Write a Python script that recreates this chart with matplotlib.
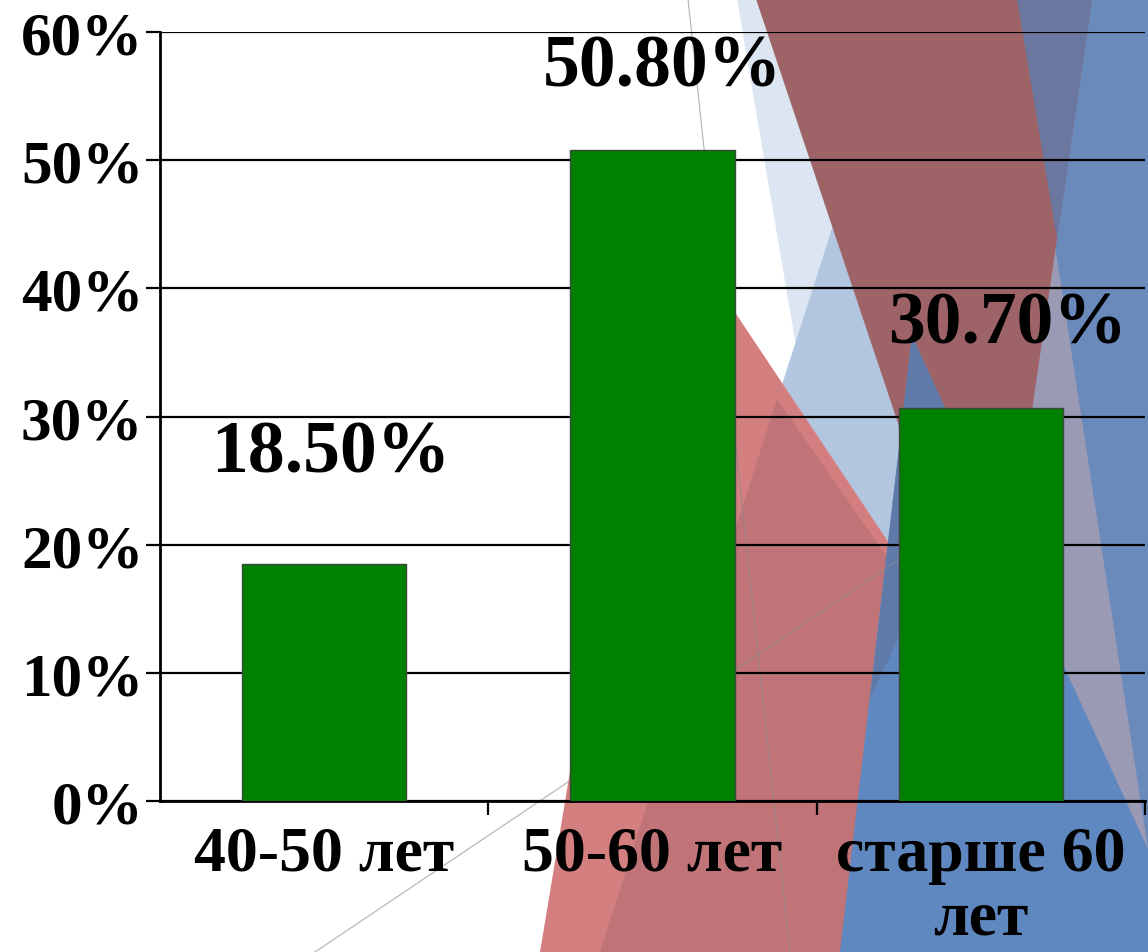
import matplotlib.pyplot as plt
from matplotlib.patches import Polygon
import numpy as np

# data
categories = ['40-50 лет', '50-60 лет', 'старше 60\nлет']
values = [18.5, 50.8, 30.7]
value_labels = ['18.50%', '50.80%', '30.70%']
yticks = [0, 10, 20, 30, 40, 50, 60]
ytick_labels = ['0%', '10%', '20%', '30%', '40%', '50%', '60%']

W, H = 1148, 953
plt.rcParams['font.family'] = ['Liberation Serif', 'DejaVu Serif']
plt.rcParams['font.weight'] = 'bold'

fig = plt.figure(figsize=(W / 100, H / 100), dpi=100)
fig.patch.set_facecolor('white')


def px(points):
    # slide pixel coords (y from top) -> figure fraction
    return [(x / W, 1 - y / H) for x, y in points]


# decorative slide background, back to front
shapes = [
    ([(1000, 0), (1148, 0), (1148, 953), (1000, 953)], '#9a9ab4'),
    ([(737, 0), (1000, 0), (1000, 700), (856, 700)], '#dce6f2'),
    ([(880, 80), (600, 953), (1000, 953), (1000, 80)], '#b2c6e0'),
    ([(540, 953), (664, 207), (1162, 953)], '#d47f7f'),
    ([(777, 400), (600, 953), (1162, 953)], '#c07478'),
    ([(1017, 0), (1148, 0), (1148, 850)], '#6a8abc'),
    ([(756, 0), (1092, 0), (990, 699)], '#9e6367'),
    ([(1017, 0), (1092, 0), (1057, 240)], '#6a78a0'),
    ([(912, 337), (1148, 850), (1148, 953), (840, 953)], '#5f88c0'),
    ([(912, 337), (975, 475), (870, 700)], '#5f7aa8'),
]
for pts, col in shapes:
    fig.add_artist(Polygon(px(pts), closed=True, transform=fig.transFigure,
                           facecolor=col, edgecolor='none', zorder=-2))

for pts in [[(688, 0), (790, 953)], [(315, 953), (900, 560)]]:
    xy = np.array(px(pts))
    fig.add_artist(plt.Line2D(xy[:, 0], xy[:, 1], transform=fig.transFigure,
                              color='#8a8a8a', lw=0.9, alpha=0.6, zorder=-1))

ax = fig.add_axes([160 / W, 1 - 802 / H, 985 / W, 769 / H])
ax.set_facecolor('none')

x = np.arange(len(categories))
ax.bar(x, values, width=0.5, color='#008000', edgecolor='#3a4a3a', linewidth=1, zorder=3)

label_dx = [0.02, 0.03, 0.08]
label_dy = [8.6, 6.4, 6.5]
for i, (v, lab) in enumerate(zip(values, value_labels)):
    ax.text(i + label_dx[i], v + label_dy[i], lab, ha='center', va='center',
            fontsize=53, fontweight='bold', color='black', zorder=4)

ax.set_xlim(-0.5, 2.5)
ax.set_ylim(0, 60)
ax.set_yticks(yticks)
ax.set_yticklabels(ytick_labels, fontsize=44, fontweight='bold')
ax.yaxis.grid(True, color='black', linewidth=1.6, zorder=1)
ax.set_axisbelow(True)

ax.set_xticks(x)
ax.set_xticklabels(categories, fontsize=46, fontweight='bold', linespacing=1.12)
ax.set_xticks([0.5, 1.5, 2.5], minor=True)
ax.tick_params(axis='x', which='major', length=0, pad=18)
ax.tick_params(axis='x', which='minor', length=10, width=1.6, direction='out')
ax.tick_params(axis='y', length=10, width=1.6, direction='out', pad=2)

for s in ['top', 'right']:
    ax.spines[s].set_visible(False)
ax.spines['left'].set_linewidth(2)
ax.spines['bottom'].set_linewidth(2)

fig.savefig('out.png', dpi=100)
